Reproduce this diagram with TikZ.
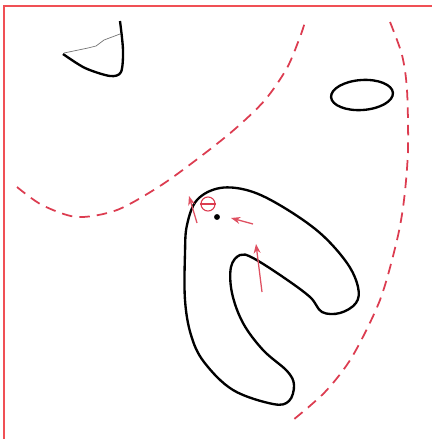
\documentclass[tikz,border=0pt]{standalone}
\usetikzlibrary{arrows.meta}
\definecolor{framered}{RGB}{240,80,85}
\definecolor{fieldred}{RGB}{220,60,80}
\begin{document}
\begin{tikzpicture}[x=0.03cm, y=-0.03cm, >=Stealth,
  outline/.style={draw=black, line width=2pt, line join=round},
  fieldline/.style={draw=fieldred, line width=1.5pt, dash pattern=on 9pt off 6pt},
  force/.style={->, draw=fieldred!90, line width=1.1pt}]
  \useasboundingbox (0,0) rectangle (432,439);
  % frame
  \draw[framered, line width=1pt] (4,439) -- (4,6) -- (432,6);
  % dashed field lines
  \draw[fieldline] plot[smooth] coordinates {(17,187) (42,205) (77,217) (117,210) (160,186) (200,157) (235,129) (265,100) (287,68) (300,37) (305,22)};
  \draw[fieldline] plot[smooth] coordinates {(390,22) (402,55) (407,90) (408,150) (404,200) (397,240) (380,300) (352,357) (325,392) (293,420)};
  % small conductor pieces
  \draw[outline] plot[smooth] coordinates {(63,54) (85,68) (110,76) (121,72) (123,50) (120,21)};
  \draw[black!55, line width=0.6pt] (64,53) -- (88,48) -- (96,46) -- (104,40) -- (120,34);
  \draw[outline, rotate around={4:(362,95)}] (362,95) ellipse (31 and 15);
  % U-shaped conductor
  \draw[outline] plot[smooth cycle, tension=0.6] coordinates {
    (220,188) (197,200) (187,225) (185,253) (185,300) (191,335) (204,362) (233,390)
    (273,404) (289,401) (294,385) (287,371) (263,350) (243,323) (232,293) (231,267)
    (240,255) (253,258) (283,277) (310,297) (322,312) (340,313) (356,303) (358,287)
    (347,263) (320,233) (283,207) (250,191)};
  % charge and forces
  \node[draw=fieldred, circle, line width=0.9pt, inner sep=0pt, minimum size=12pt] (charge) at (208,204) {};
  \draw[fieldred, line width=0.9pt] (charge.west) -- (charge.east);
  \node[fill=black, circle, inner sep=0pt, minimum size=5pt] (dot) at (217,217) {};
  \coordinate (tipA) at (189,196);
  \coordinate (tailA) at (197,223);
  \coordinate (tipB) at (231,218);
  \coordinate (tailB) at (253,224);
  \coordinate (tipC) at (256,244);
  \coordinate (tailC) at (262,292);
  \draw[force] (tailA) -- (tipA);
  \draw[force] (tailB) -- (tipB);
  \draw[force] (tailC) -- (tipC);
\end{tikzpicture}
\end{document}
